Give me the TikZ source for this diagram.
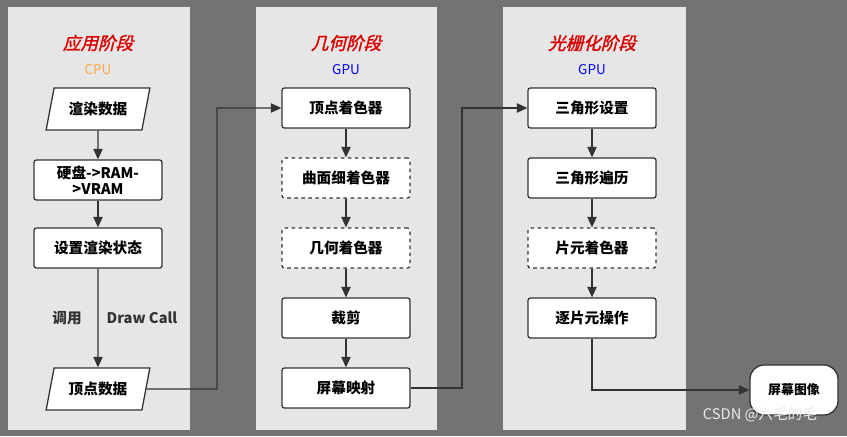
\documentclass[tikz,border=0pt]{standalone}
\usepackage{fontspec}
\setmainfont{Noto Sans CJK SC}
\newfontfamily\slantcjk[FakeSlant=0.25,FakeBold=1.5]{Noto Sans CJK SC}
\usetikzlibrary{shapes.geometric,arrows.meta}
\definecolor{bgdark}{HTML}{737373}
\definecolor{panel}{HTML}{E6E6E6}
\definecolor{linec}{HTML}{333333}
\tikzset{
  stagebox/.style={draw=linec,line width=1.1pt,fill=white,rounded corners=2pt,minimum width=3.84cm,minimum height=1.2cm,align=center,font=\bfseries\fontsize{12.5}{14}\selectfont,inner sep=1pt},
  optbox/.style={stagebox,dashed},
  databox/.style={trapezium,trapezium left angle=70,trapezium right angle=110,draw=linec,line width=1.1pt,fill=white,minimum width=2.6cm,minimum height=1.26cm,font=\bfseries\fontsize{12.5}{14}\selectfont,trapezium stretches=true,text width=2.4cm,align=center},
  flow/.style={draw=linec,line width=1.1pt,-{Triangle[length=9pt,width=8pt]}},
  title/.style={font=\slantcjk\fontsize{15}{17}\selectfont,text=red!85!black},
  sub/.style={font=\fontsize{11.5}{13}\selectfont},
}
\begin{document}
\begin{tikzpicture}[x=0.03cm,y=-0.03cm]
  \fill[bgdark] (0,0) rectangle (847,436);
  \fill[panel] (8,7) rectangle (190,430);
  \fill[panel] (256,7) rectangle (437,430);
  \fill[panel] (503,7) rectangle (686,430);

  % titles
  \path (98,43) node (t1) [title] {应用阶段}
        (98,70) node (s1) [sub,text=orange!70] {CPU}
        (346,43) node (t2) [title] {几何阶段}
        (346,70) node (s2) [sub,text=blue] {GPU}
        (592,43) node (t3) [title] {光栅化阶段}
        (592,70) node (s3) [sub,text=blue] {GPU};

  % application stage
  \path (98,109) node (rd) [databox] {渲染数据}
        (98,180) node (hd) [stagebox] {硬盘->RAM-\\>VRAM}
        (98,248) node (st) [stagebox] {设置渲染状态}
        (98,389) node (vd) [databox] {顶点数据}
        (67,318) node (dy) [font=\bfseries\fontsize{12.5}{14}\selectfont,text=linec] {调用}
        (142,318) node (dc) [font=\bfseries\fontsize{12.5}{14}\selectfont,text=linec] {Draw Call};

  % geometry stage
  \path (346,108) node (vs) [stagebox] {顶点着色器}
        (346,178) node (ts) [optbox] {曲面细着色器}
        (346,248) node (gs) [optbox] {几何着色器}
        (346,318) node (cl) [stagebox] {裁剪}
        (346,388) node (sm) [stagebox] {屏幕映射};

  % raster stage
  \path (592,108) node (tu) [stagebox] {三角形设置}
        (592,178) node (tt) [stagebox] {三角形遍历}
        (592,248) node (fs) [optbox] {片元着色器}
        (592,318) node (po) [stagebox] {逐片元操作}
        (794,390) node (im) [draw=linec,line width=1.1pt,fill=white,rounded corners=12pt,minimum width=2.64cm,minimum height=1.5cm,font=\bfseries\fontsize{11}{13}\selectfont] {屏幕图像};

  \draw[flow] (rd) -- (hd);
  \draw[flow] (hd) -- (st);
  \draw[flow] (st) -- (vd);
  \draw[flow] (vs) -- (ts);
  \draw[flow] (ts) -- (gs);
  \draw[flow] (gs) -- (cl);
  \draw[flow] (cl) -- (sm);
  \draw[flow] (tu) -- (tt);
  \draw[flow] (tt) -- (fs);
  \draw[flow] (fs) -- (po);
  \draw[flow] (vd.east) -- (217,389) |- (vs.west);
  \draw[flow] (sm.east) -- (462,388) |- (tu.west);
  \draw[flow] (po.south) |- (im.west);

  \node (wm) at (760,415) [text=white!85!gray,font=\fontsize{12.5}{14}\selectfont] {CSDN @六毛的毛};
\end{tikzpicture}
\end{document}
